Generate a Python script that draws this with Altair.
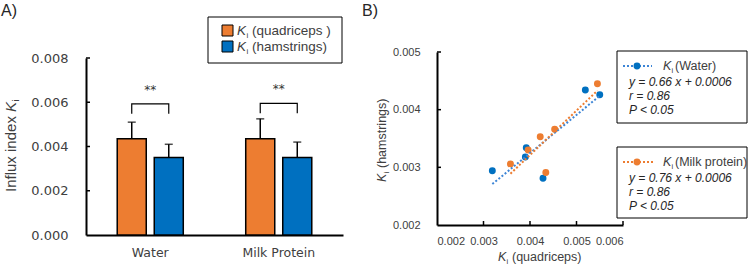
import altair as alt
import pandas as pd

# ---------------- data ----------------
groups = ["Water", "Milk Protein"]
series = ["quadriceps", "hamstrings"]
bar_colors = ["#ED7D31", "#0070C0"]
bar_mean_quad = [0.00435, 0.00435]
bar_mean_ham = [0.00350, 0.00350]
bar_err_quad = [0.00510, 0.00525]
bar_err_ham = [0.00410, 0.00420]
a_ticks = [0.000, 0.002, 0.004, 0.006, 0.008]
bracket_low = [0.00548, 0.00550]
bracket_high = [0.00593, 0.00595]
star_y = [0.00655, 0.00658]

water_x = [0.00319, 0.00392, 0.00390, 0.00428, 0.00519, 0.00550]
water_y = [0.00294, 0.00334, 0.00318, 0.00281, 0.00434, 0.00426]
milk_x = [0.00358, 0.00396, 0.00422, 0.00453, 0.00434, 0.00545]
milk_y = [0.00306, 0.00330, 0.00353, 0.00366, 0.00291, 0.00445]
water_fit_x = [0.00319, 0.00550]
water_fit_y = [0.00271, 0.00424]
milk_fit_x = [0.00358, 0.00545]
milk_fit_y = [0.00289, 0.00433]
b_x_ticks = [0.002, 0.003, 0.004, 0.005, 0.006]
b_y_ticks = [0.002, 0.003, 0.004, 0.005]
water_color = "#0070C0"
milk_color = "#ED7D31"

LBL = "#404040"
SANS = "Liberation Sans"
VERD = "DejaVu Sans"
one = pd.DataFrame({"k": [0]})


def txt(s, x, y, size, italic=False, color=LBL, angle=0, font=SANS, align="left"):
    return alt.Chart(one).mark_text(
        text=s, fontSize=size, font=font, color=color, align=align,
        baseline="alphabetic", angle=angle,
        fontStyle="italic" if italic else "normal",
    ).encode(x=alt.value(x), y=alt.value(y))


def box(x, x2, y, y2, fill="white", stroke="black", sw=1.0):
    return alt.Chart(one).mark_rect(fill=fill, stroke=stroke, strokeWidth=sw).encode(
        x=alt.value(x), x2=alt.value(x2), y=alt.value(y), y2=alt.value(y2))


# ---------------- panel A ----------------
rows = []
for i, g in enumerate(groups):
    rows.append({"group": g, "series": series[0], "mean": bar_mean_quad[i], "err": bar_err_quad[i]})
    rows.append({"group": g, "series": series[1], "mean": bar_mean_ham[i], "err": bar_err_ham[i]})
bars_df = pd.DataFrame(rows)

br = []
for i, g in enumerate(groups):
    br += [
        {"group": g, "series": series[0], "y": bracket_low[i], "o": 0},
        {"group": g, "series": series[0], "y": bracket_high[i], "o": 1},
        {"group": g, "series": series[1], "y": bracket_high[i], "o": 2},
        {"group": g, "series": series[1], "y": bracket_low[i], "o": 3},
    ]
bracket_df = pd.DataFrame(br)
star_df = pd.DataFrame({"group": groups, "y": star_y, "t": ["**", "**"]})
atick_df = pd.DataFrame({"v": a_ticks[1:]})

WA, HA = 257, 183
ysA = alt.Scale(domain=[0, 0.008], range=[HA, 6], nice=False, zero=True)
yaxA = alt.Axis(values=a_ticks, format=".3f", ticks=False, grid=False, domainColor="black",
                domainWidth=2, labelFont=VERD, labelFontSize=13, labelColor=LBL,
                labelPadding=18, title=None)
xsA = alt.Scale(domain=groups, paddingInner=0.486, paddingOuter=0.243)
xaxA = alt.Axis(ticks=False, domainColor="black", domainWidth=2, labelFont=VERD,
                labelFontSize=12.5, labelColor=LBL, labelPadding=11, labelAngle=0, title=None)
offA = alt.Scale(domain=series, paddingInner=0.216, paddingOuter=0)


def YA(f):
    return alt.Y(f, scale=ysA, axis=yaxA, title=None)


def XA():
    return alt.X("group:N", scale=xsA, axis=xaxA, sort=groups, title=None)


def OA():
    return alt.XOffset("series:N", scale=offA, sort=series)


bars = alt.Chart(bars_df).mark_bar(stroke="black", strokeWidth=1.5).encode(
    x=XA(), xOffset=OA(), y=YA("mean:Q"),
    color=alt.Color("series:N", scale=alt.Scale(domain=series, range=bar_colors), legend=None))
errs = alt.Chart(bars_df).mark_rule(color="black", strokeWidth=1.5).encode(
    x=XA(), xOffset=OA(), y=YA("mean:Q"), y2="err:Q")
caps = alt.Chart(bars_df).mark_tick(color="black", thickness=1.5, size=8, orient="horizontal").encode(
    x=XA(), xOffset=OA(), y=YA("err:Q"))
bracket = alt.Chart(bracket_df).mark_line(color="black", strokeWidth=1.2).encode(
    x=XA(), xOffset=OA(), y=YA("y:Q"), order="o:Q", detail="group:N")
stars = alt.Chart(star_df).mark_text(font=VERD, fontSize=12, color="#333333", baseline="middle").encode(
    x=XA(), y=YA("y:Q"), text="t:N")
aticks = alt.Chart(atick_df).mark_rule(color="black", strokeWidth=1.5).encode(
    y=YA("v:Q"), x=alt.value(0), x2=alt.value(4))

bounds_rect = alt.Chart(one).mark_rect(opacity=0).encode(
    x=alt.value(-86), x2=alt.value(664), y=alt.value(-52), y2=alt.value(214))

legA = [
    box(122, 256, -35, 11),
    box(136, 147, -27, -16, fill=bar_colors[0], sw=1),
    box(136, 147, -11, 0, fill=bar_colors[1], sw=1),
    txt("K", 151, -17, 13.5, italic=True),
    txt("i", 160.5, -14, 8),
    txt("(quadriceps )", 166, -17, 13.5),
    txt("K", 151, -1, 13.5, italic=True),
    txt("i", 160.5, 2, 8),
    txt("(hamstrings)", 166, -1, 13.5),
]
titleA = [
    txt("A)", -85, -36, 16, color="#262626"),
    txt("Influx index ", -70, 140, 15, angle=270),
    txt("K", -70, 60, 15, italic=True, angle=270),
    txt("i", -67, 49.5, 9, angle=270),
]

panelA = alt.layer(bounds_rect, bars, errs, caps, bracket, stars, aticks, *legA, *titleA).properties(
    width=WA, height=HA)

# ---------------- panel B ----------------
WB, HB = 186, 173
water_df = pd.DataFrame({"x": water_x, "y": water_y})
milk_df = pd.DataFrame({"x": milk_x, "y": milk_y})
water_fit_df = pd.DataFrame({"x": water_fit_x, "y": water_fit_y})
milk_fit_df = pd.DataFrame({"x": milk_fit_x, "y": milk_fit_y})
bxt_df = pd.DataFrame({"v": b_x_ticks[1:]})
byt_df = pd.DataFrame({"v": b_y_ticks[1:]})

xsB = alt.Scale(domain=[0.002, 0.006], nice=False, zero=False)
ysB = alt.Scale(domain=[0.002, 0.005], nice=False, zero=False)
xaxB = alt.Axis(values=b_x_ticks, format=".3f", ticks=False, grid=False, domainColor="black",
                domainWidth=2, labelFont=SANS, labelFontSize=11, labelColor=LBL, labelPadding=10,
                title=None)
yaxB = alt.Axis(values=b_y_ticks, format=".3f", ticks=False, grid=False, domainColor="black",
                domainWidth=2, labelFont=SANS, labelFontSize=11, labelColor=LBL, labelPadding=17,
                title=None)


def XB(f):
    return alt.X(f, scale=xsB, axis=xaxB, title=None)


def YB(f):
    return alt.Y(f, scale=ysB, axis=yaxB, title=None)


pts_w = alt.Chart(water_df).mark_circle(size=48, opacity=1, color=water_color).encode(
    x=XB("x:Q"), y=YB("y:Q"))
pts_m = alt.Chart(milk_df).mark_circle(size=48, opacity=1, color=milk_color).encode(
    x=XB("x:Q"), y=YB("y:Q"))
fit_w = alt.Chart(water_fit_df).mark_line(strokeDash=[2, 2], strokeWidth=2, color="#3D85D6").encode(
    x=XB("x:Q"), y=YB("y:Q"))
fit_m = alt.Chart(milk_fit_df).mark_line(strokeDash=[2, 2], strokeWidth=2, color=milk_color).encode(
    x=XB("x:Q"), y=YB("y:Q"))
bxt = alt.Chart(bxt_df).mark_rule(color="black", strokeWidth=1.5).encode(
    x=XB("v:Q"), y=alt.value(HB), y2=alt.value(HB - 4))
byt = alt.Chart(byt_df).mark_rule(color="black", strokeWidth=1.5).encode(
    y=YB("v:Q"), x=alt.value(0), x2=alt.value(4))


def seg(x, x2, y, color):
    return alt.Chart(one).mark_rule(color=color, strokeWidth=2, strokeDash=[2, 2]).encode(
        x=alt.value(x), x2=alt.value(x2), y=alt.value(y))


def dot(x, y, color):
    return alt.Chart(one).mark_circle(size=48, opacity=1, color=color).encode(
        x=alt.value(x), y=alt.value(y))


DK = "#262626"
legB = [
    box(180, 310, -1, 71),
    seg(186, 215, 14, "#3D85D6"), dot(200, 14, water_color),
    txt("K", 226, 18, 12.5, italic=True),
    txt("i", 234.5, 21, 7.5),
    txt("(Water)", 238, 18, 12.5),
    txt("y = 0.66 x + 0.0006", 192, 34, 12, italic=True, color=DK),
    txt("r = 0.86", 192, 48, 12, italic=True, color=DK),
    txt("P < 0.05", 192, 62, 12, italic=True, color=DK),
    box(180, 310, 95, 166),
    seg(186, 218, 110, milk_color), dot(200, 110, milk_color),
    txt("K", 226, 114, 12.5, italic=True),
    txt("i", 234.5, 117, 7.5),
    txt("(Milk protein)", 238, 114, 12.5),
    txt("y = 0.76 x + 0.0006", 192, 130, 12, italic=True, color=DK),
    txt("r = 0.86", 192, 144, 12, italic=True, color=DK),
    txt("P < 0.05", 192, 158, 12, italic=True, color=DK),
]
titleB = [
    txt("B)", -75, -36, 16, color="#262626"),
    txt("K", 61, 209, 12.5, italic=True),
    txt("i", 69.5, 212, 7.5),
    txt("(quadriceps)", 75, 209, 12.5),
    txt("K", -51, 130, 12.5, italic=True, angle=270),
    txt("i", -48, 121.5, 7.5, angle=270),
    txt("(hamstrings)", -51, 116, 12.5, angle=270),
]

panelB = alt.layer(pts_w, pts_m, fit_w, fit_m, bxt, byt, *legB, *titleB).properties(width=WB, height=HB)

chart = alt.hconcat(panelA, panelB, spacing=94, bounds="flush").properties(
    padding=0, autosize=alt.AutoSizeParams(type="pad")
).configure_view(stroke=None)

chart.save("out.html", embed_options={"renderer": "svg", "actions": False})
